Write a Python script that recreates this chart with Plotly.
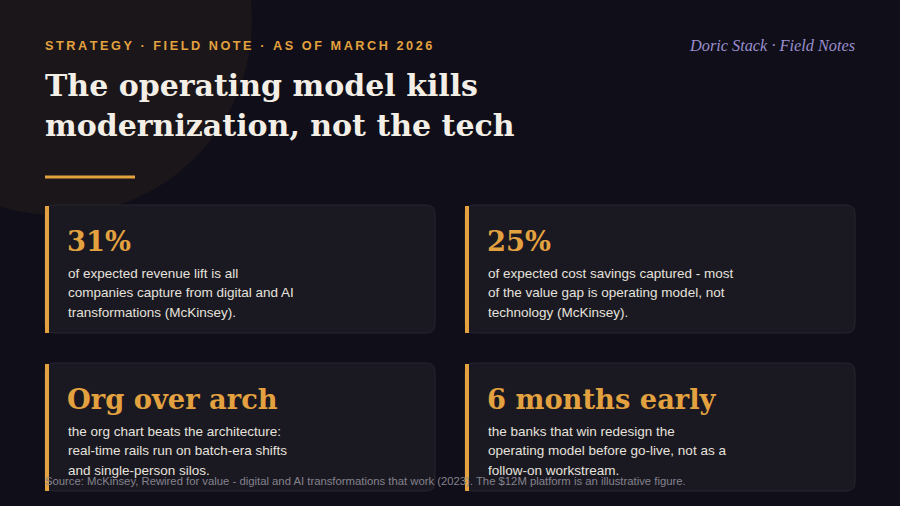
# field_note_operating_model.py

import plotly.graph_objects as go

# Text content of the note
kicker = "STRATEGY · FIELD NOTE · AS OF MARCH 2026"
title_lines = ["The operating model kills", "modernization, not the tech"]
brand = "Doric Stack · Field Notes"

headlines = ["31%", "25%", "Org over arch", "6 months early"]
body_lines = [
    ["of expected revenue lift is all",
     "companies capture from digital and AI",
     "transformations (McKinsey)."],
    ["of expected cost savings captured - most",
     "of the value gap is operating model, not",
     "technology (McKinsey)."],
    ["the org chart beats the architecture:",
     "real-time rails run on batch-era shifts",
     "and single-person silos."],
    ["the banks that win redesign the",
     "operating model before go-live, not as a",
     "follow-on workstream."],
]
source = ("Source: McKinsey, Rewired for value - digital and AI transformations "
          "that work (2023). The $12M platform is an illustrative figure.")

# Colours
BG = "#100e18"
GLOW = "#1b1619"
CARD = "#1a1922"
CARD_LINE = "#26242f"
ORANGE = "#e3a23f"
INK = "#f3efe7"
BODY = "#e6e2dc"
LAVENDER = "#9a8fcf"
MUTED = "#85828d"

SERIF = "DejaVu Serif, Georgia, serif"
SERIF_ITALIC = "Liberation Serif, Georgia, serif"
SANS = "Liberation Sans, Arial, Helvetica, sans-serif"

W, H = 900, 506


def rounded_rect(x0, y0, x1, y1, r):
    # SVG path for a rectangle with rounded corners (y grows downward on screen)
    return (f"M {x0 + r} {y0} L {x1 - r} {y0} Q {x1} {y0} {x1} {y0 + r} "
            f"L {x1} {y1 - r} Q {x1} {y1} {x1 - r} {y1} "
            f"L {x0 + r} {y1} Q {x0} {y1} {x0} {y1 - r} "
            f"L {x0} {y0 + r} Q {x0} {y0} {x0 + r} {y0} Z")


fig = go.Figure()

shapes = []
annotations = []

# Warm glow circle in the top-left corner
shapes.append(dict(type="circle", xref="x", yref="y", x0=-138, y0=-175, x1=252, y1=215,
                   fillcolor=GLOW, line=dict(width=0), layer="below"))

# Kicker, with a little letter spacing
annotations.append(dict(x=43, y=46, text="\u2009".join(kicker), xanchor="left", yanchor="middle",
                        font=dict(family=SANS, size=12.7, color=ORANGE, weight="bold")))

# Brand mark
annotations.append(dict(x=857, y=45, text=brand, xanchor="right", yanchor="middle",
                        font=dict(family=SERIF_ITALIC, size=16.3, color=LAVENDER, style="italic")))

# Title
for i, line in enumerate(title_lines):
    annotations.append(dict(x=43, y=85 + 40 * i, text=line, xanchor="left", yanchor="middle",
                            font=dict(family=SERIF, size=30, color=INK, weight="bold")))

# Short rule under the title
shapes.append(dict(type="line", xref="x", yref="y", x0=45, x1=135, y0=177, y1=177,
                   line=dict(color=ORANGE, width=3)))

# Cards in a 2x2 grid
col_x = [45, 465]
row_y = [205, 363]
card_w, card_h = 390, 128

for k, head in enumerate(headlines):
    x0 = col_x[k % 2]
    y0 = row_y[k // 2]
    x1, y1 = x0 + card_w, y0 + card_h
    shapes.append(dict(type="path", xref="x", yref="y", path=rounded_rect(x0, y0, x1, y1, 9),
                       fillcolor=CARD, line=dict(color=CARD_LINE, width=1), layer="below"))
    shapes.append(dict(type="rect", xref="x", yref="y", x0=x0, x1=x0 + 4, y0=y0 + 1, y1=y1,
                       fillcolor=ORANGE, line=dict(width=0), layer="below"))
    annotations.append(dict(x=x0 + 20, y=y0 + 36, text=head, xanchor="left", yanchor="middle",
                            font=dict(family=SERIF, size=27.3, color=ORANGE, weight="bold")))
    for j, line in enumerate(body_lines[k]):
        annotations.append(dict(x=x0 + 21, y=y0 + 68 + 19.5 * j, text=line,
                                xanchor="left", yanchor="middle",
                                font=dict(family=SANS, size=13.5, color=BODY)))

# Source footnote sits over the lower cards
annotations.append(dict(x=43, y=481, text=source, xanchor="left", yanchor="middle",
                        font=dict(family=SANS, size=11.3, color=MUTED)))

for a in annotations:
    a.update(xref="x", yref="y", showarrow=False)

fig.update_layout(
    width=W, height=H,
    margin=dict(l=0, r=0, t=0, b=0),
    paper_bgcolor=BG, plot_bgcolor=BG,
    xaxis=dict(range=[0, W], visible=False, fixedrange=True),
    yaxis=dict(range=[H, 0], visible=False, fixedrange=True),
    shapes=shapes,
    annotations=annotations,
    showlegend=False,
)

# Drop the page's default body margin so the figure fills the window
fig.write_html("out.html", config={"displayModeBar": False},
               post_script="document.body.style.margin='0';")
